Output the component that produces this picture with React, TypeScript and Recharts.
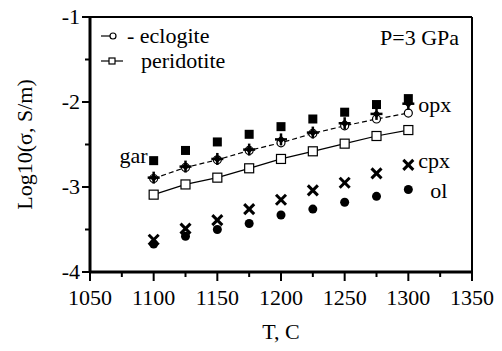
import { ComposedChart, Line, Scatter, XAxis, YAxis, ReferenceLine, LabelList } from 'recharts';

const TEMPS = [1100, 1125, 1150, 1175, 1200, 1225, 1250, 1275, 1300];
const ECLOGITE = [-2.9, -2.77, -2.68, -2.57, -2.48, -2.37, -2.28, -2.2, -2.13];
const PERIDOTITE = [-3.09, -2.97, -2.89, -2.78, -2.67, -2.58, -2.49, -2.4, -2.33];
const GAR = [-2.69, -2.57, -2.47, -2.38, -2.29, -2.2, -2.12, -2.03, -1.96];
const OPX = [-2.89, -2.76, -2.67, -2.56, -2.44, -2.36, -2.25, -2.14, -2.02];
const CPX = [-3.62, -3.49, -3.39, -3.26, -3.15, -3.04, -2.95, -2.84, -2.74];
const OL = [-3.67, -3.58, -3.5, -3.43, -3.33, -3.26, -3.18, -3.11, -3.03];

const X_TICKS = [1050, 1075, 1100, 1125, 1150, 1175, 1200, 1225, 1250, 1275, 1300, 1325, 1350];
const Y_TICKS = [-4, -3.5, -3, -2.5, -2, -1.5, -1];

const DATA = TEMPS.map((t, i) => ({
  T: t,
  eclogite: ECLOGITE[i],
  peridotite: PERIDOTITE[i],
  gar: GAR[i],
  opx: OPX[i],
  cpx: CPX[i],
  ol: OL[i],
}));

const FONT = '"Liberation Serif", "Times New Roman", serif';
const TXT = { fontFamily: FONT, fontSize: 22 };

function XTick(props: any) {
  const { x, y, payload } = props;
  const major = payload.value % 50 === 0;
  return (
    <g>
      <line x1={x} x2={x} y1={y} y2={y + (major ? 9 : 5)} stroke="#000" strokeWidth={2} />
      {major && (
        <text x={x} y={y + 33} textAnchor="middle" style={TXT} fill="#000">
          {payload.value}
        </text>
      )}
    </g>
  );
}

function YTick(props: any) {
  const { x, y, payload } = props;
  const major = Number.isInteger(payload.value);
  return (
    <g>
      <line x1={x - (major ? 8 : 5)} x2={x} y1={y} y2={y} stroke="#000" strokeWidth={2} />
      {major && (
        <text x={x - 10} y={y + 7} textAnchor="end" style={TXT} fill="#000">
          {payload.value}
        </text>
      )}
    </g>
  );
}

const squareFilled = (p: any) => <rect x={p.cx - 4.5} y={p.cy - 4.5} width={9} height={9} fill="#000" />;
const circleFilled = (p: any) => <circle cx={p.cx} cy={p.cy} r={4.5} fill="#000" />;
const cross = (p: any) => (
  <g stroke="#000" strokeWidth={3}>
    <line x1={p.cx - 5} y1={p.cy - 5} x2={p.cx + 5} y2={p.cy + 5} />
    <line x1={p.cx - 5} y1={p.cy + 5} x2={p.cx + 5} y2={p.cy - 5} />
  </g>
);
const plus = (p: any) => (
  <g>
    <g stroke="#000" strokeWidth={2.5}>
      <line x1={p.cx - 6} y1={p.cy} x2={p.cx + 6} y2={p.cy} />
      <line x1={p.cx} y1={p.cy - 6} x2={p.cx} y2={p.cy + 6} />
    </g>
    <path d={`M${p.cx},${p.cy - 4} L${p.cx + 4},${p.cy} L${p.cx},${p.cy + 4} L${p.cx - 4},${p.cy} Z`} fill="#000" />
  </g>
);

const openCircle = (p: any) => <circle key={p.index} cx={p.cx} cy={p.cy} r={4} fill="#fff" stroke="#000" strokeWidth={1.2} />;
const openSquare = (p: any) => (
  <rect key={p.index} x={p.cx - 4.5} y={p.cy - 4.5} width={9} height={9} fill="#fff" stroke="#000" strokeWidth={1.2} />
);

function seriesLabel(text: string, where: 'first' | 'last', dx: number, dy: number) {
  return (p: any) => {
    const idx = where === 'first' ? 0 : TEMPS.length - 1;
    if (p.index !== idx) return null;
    return (
      <text
        x={p.x + (p.width || 0) / 2 + dx}
        y={p.y + (p.height || 0) / 2 + dy}
        textAnchor={where === 'first' ? 'end' : 'start'}
        style={TXT}
        fill="#000"
      >
        {text}
      </text>
    );
  };
}

export default function App() {
  return (
    <div style={{ position: 'absolute', left: 0, top: 0, background: '#fff' }}>
      <ComposedChart width={502} height={351} data={DATA} margin={{ top: 17, right: 30, left: 0, bottom: 0 }}>
        <XAxis
          dataKey="T"
          type="number"
          domain={[1050, 1350]}
          ticks={X_TICKS}
          height={79}
          axisLine={{ stroke: '#000', strokeWidth: 3 }}
          tickLine={false}
          tickSize={0}
          tickMargin={0}
          tick={<XTick />}
          interval={0}
          label={{ value: 'T, C', position: 'insideBottom', offset: 12, style: TXT, fill: '#000' }}
        />
        <YAxis
          type="number"
          domain={[-4, -1]}
          ticks={Y_TICKS}
          width={90}
          axisLine={{ stroke: '#000', strokeWidth: 3 }}
          tickLine={false}
          tickSize={0}
          tickMargin={0}
          tick={<YTick />}
          interval={0}
          label={{ value: 'Log10(σ, S/m)', angle: -90, position: 'insideLeft', offset: 24, style: { ...TXT, textAnchor: 'middle' }, fill: '#000' }}
        />
        <ReferenceLine y={-1} stroke="#000" strokeWidth={2} />
        <ReferenceLine x={1350} stroke="#000" strokeWidth={2} />
        <Line dataKey="peridotite" stroke="#000" strokeWidth={1.2} dot={openSquare} isAnimationActive={false} legendType="none" />
        <Line dataKey="eclogite" stroke="#000" strokeWidth={1.2} strokeDasharray="5 3" dot={openCircle} isAnimationActive={false} legendType="none" />
        <Scatter dataKey="gar" shape={squareFilled} isAnimationActive={false} legendType="none">
          <LabelList dataKey="gar" content={seriesLabel('gar', 'first', -6, 2)} />
        </Scatter>
        <Scatter dataKey="opx" shape={plus} isAnimationActive={false} legendType="none">
          <LabelList dataKey="opx" content={seriesLabel('opx', 'last', 10, 8)} />
        </Scatter>
        <Scatter dataKey="cpx" shape={cross} isAnimationActive={false} legendType="none">
          <LabelList dataKey="cpx" content={seriesLabel('cpx', 'last', 10, 3)} />
        </Scatter>
        <Scatter dataKey="ol" shape={circleFilled} isAnimationActive={false} legendType="none">
          <LabelList dataKey="ol" content={seriesLabel('ol', 'last', 22, 8)} />
        </Scatter>
        {/* legend, drawn inside the plot frame */}
        <g stroke="#000" strokeWidth={1.2}>
          <line x1={101} x2={110} y1={36} y2={36} />
          <circle cx={113} cy={36} r={3} fill="#fff" />
          <line x1={101} x2={123} y1={61} y2={61} />
          <rect x={109} y={58} width={6} height={6} fill="#fff" />
        </g>
        <text x={127} y={43} style={TXT} fill="#000">- eclogite</text>
        <text x={141} y={68} style={TXT} fill="#000">peridotite</text>
        <text x={380} y={45} style={TXT} fill="#000">P=3 GPa</text>
      </ComposedChart>
    </div>
  );
}
